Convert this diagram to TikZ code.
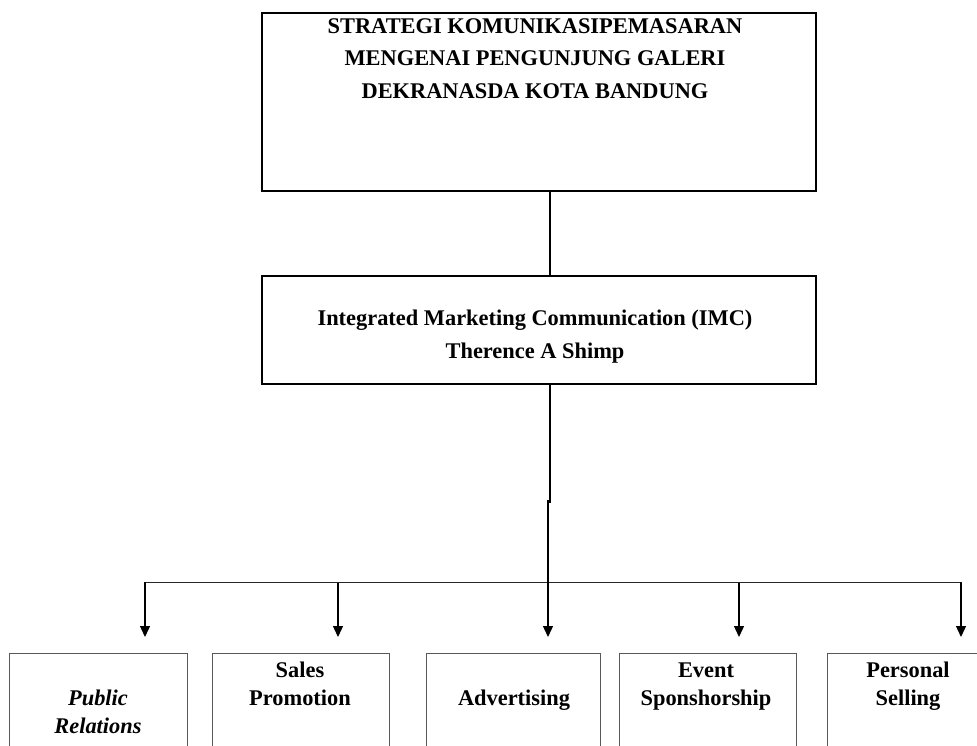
\documentclass[tikz,border=0pt]{standalone}
\usepackage{fontspec}
\setmainfont{Liberation Serif}
\usetikzlibrary{arrows.meta}
\begin{document}
\begin{tikzpicture}[x=1pt,y=-1pt,
  bigbox/.style={draw=black, line width=2.2pt, rectangle, inner sep=0pt, anchor=north west, minimum width=554pt},
  smallbox/.style={draw=black!65, line width=1pt, rectangle, inner sep=0pt, anchor=north west, minimum height=140pt},
  txt/.style={font=\fontsize{22.4}{32.5}\selectfont\bfseries, align=center, anchor=base, inner sep=0pt},
  stxt/.style={font=\fontsize{22.4}{27.5}\selectfont\bfseries, align=center, anchor=base, inner sep=0pt},
  arr/.style={-{Triangle[length=11pt,width=10pt]}, line width=1.3pt},
  conn/.style={line width=2.2pt},
  bus/.style={line width=1pt, draw=black!85}]
\useasboundingbox (0,0) rectangle (977,745);
\clip (0,0) rectangle (977,745);

% top boxes
\node[bigbox, minimum height=178pt] (top) at (261,12) {};
\node[txt] (toptext) at (535,98) {STRATEGI KOMUNIKASIPEMASARAN\\MENGENAI PENGUNJUNG GALERI\\DEKRANASDA KOTA BANDUNG};
\node[bigbox, minimum height=108pt] (imc) at (261,275) {};
\node[txt] (imctext) at (535,358) {Integrated Marketing Communication (IMC)\\Therence A Shimp};

% bottom boxes
\node[smallbox, minimum width=178pt] (b1) at (9,653) {};
\node[smallbox, minimum width=177pt] (b2) at (212,653) {};
\node[smallbox, minimum width=174pt] (b3) at (426,653) {};
\node[smallbox, minimum width=177pt] (b4) at (619,653) {};
\node[smallbox, minimum width=174pt] (b5) at (827,653) {};

\node[stxt] (t1) at (98,733) {\itshape Public\\\itshape Relations};
\node[stxt] (t2) at (300,705) {Sales\\Promotion};
\node[stxt] (t3) at (514,705) {Advertising};
\node[stxt] (t4) at (706,705) {Event\\Sponshorship};
\node[stxt] (t5) at (908,705) {Personal\\Selling};

% connectors
\coordinate (j) at (550,503);
\coordinate (k) at (548,500);
\coordinate (busL) at (145,582);
\coordinate (busR) at (961,582);
\coordinate (c2) at (338,583);
\coordinate (c4) at (739,583);
\coordinate (tipline) at (0,637);

\draw[conn] (top.south -| j) -- (imc.north -| j);
\draw[conn] (imc.south -| j) -- (j);
\draw[bus] (busL) -- (busR);
\draw[arr] (k) -- (k |- tipline);
\draw[arr] (busL) -- (busL |- tipline);
\draw[arr] (c2) -- (c2 |- tipline);
\draw[arr] (c4) -- (c4 |- tipline);
\draw[arr] (busR) -- (busR |- tipline);
\end{tikzpicture}
\end{document}
